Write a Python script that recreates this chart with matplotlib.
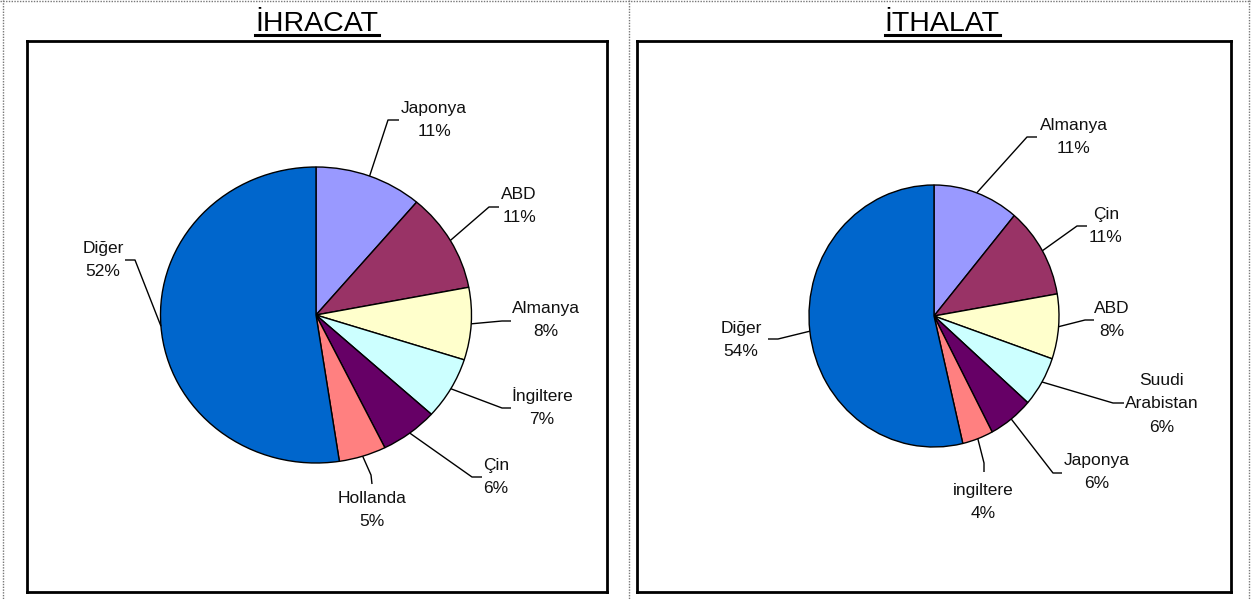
import numpy as np
import matplotlib
matplotlib.use('Agg')
import matplotlib.pyplot as plt
from matplotlib.lines import Line2D

plt.rcParams['font.family'] = ['Liberation Sans', 'DejaVu Sans']

W, H = 1251, 599

# İHRACAT (exports) shares, %
ihr_countries = ['Japonya', 'ABD', 'Almanya', 'İngiltere', 'Çin', 'Hollanda', 'Diğer']
ihr_shares = [11.2, 10.8, 7.9, 6.8, 6.0, 4.9, 52.4]

# İTHALAT (imports) shares, %
ith_countries = ['Almanya', 'Çin', 'ABD', 'Suudi\nArabistan', 'Japonya', 'ingiltere', 'Diğer']
ith_shares = [11.1, 11.2, 8.0, 6.2, 5.8, 4.0, 53.7]

colors = ['#9999FF', '#993366', '#FFFFCC', '#CCFFFF', '#660066', '#FF8080', '#0066CC']

# layout in pixels (from top-left): box, pie centre, radii, and label placement
# label entries: text centre, elbow of the leader, end of the leader
ihr_layout = dict(
    title='İHRACAT', title_x=317,
    box=(27, 41, 607, 592), center=(316, 315), r=(155.5, 148),
    labels=[((434, 120), (388, 120), (399, 120)),
            ((519, 206), (489, 207), (499, 207)),
            ((546, 320), (502, 321), (511, 321)),
            ((542, 407), (502, 408), (511, 408)),
            ((496, 477), (472, 477), (482, 477)),
            ((372, 510), (371, 475), (372, 484)),
            ((103, 260), (135, 260), (125, 260))])
ith_layout = dict(
    title='İTHALAT', title_x=942,
    box=(637, 41, 1231, 592), center=(934, 316), r=(125, 131),
    labels=[((1074, 137), (1027, 137), (1037, 137)),
            ((1106, 226), (1077, 226), (1087, 226)),
            ((1112, 320), (1085, 320), (1094, 320)),
            ((1162, 404), (1113, 403), (1124, 403)),
            ((1097, 472), (1053, 473), (1062, 473)),
            ((983, 502), (984, 463), (984, 472)),
            ((741, 340), (778, 339), (768, 339))])

fig = plt.figure(figsize=(W / 100, H / 100), dpi=100)


def draw_panel(countries, shares, lay):
    x0, y0, x1, y1 = lay['box']
    cx, cy = lay['center']
    rx, ry = lay['r']
    ax = fig.add_axes([x0 / W, 1 - y1 / H, (x1 - x0) / W, (y1 - y0) / H])
    wedges, _ = ax.pie(shares, colors=colors, startangle=90, counterclock=False,
                       wedgeprops=dict(edgecolor='black', linewidth=1))
    ax.set_aspect('auto')
    ax.set_xlim(-(cx - x0) / rx, (x1 - cx) / rx)
    ax.set_ylim(-(y1 - cy) / ry, (cy - y0) / ry)
    ax.set_frame_on(True)
    for s in ax.spines.values():
        s.set_visible(True)
        s.set_linewidth(2)
        s.set_color('black')

    def d(p):
        return ((p[0] - cx) / rx, (cy - p[1]) / ry)

    for w, name, val, (txt, elbow, end) in zip(wedges, countries, shares, lay['labels']):
        ang = np.deg2rad((w.theta1 + w.theta2) / 2)
        start = (np.cos(ang), np.sin(ang))
        e = d(elbow)
        f = d(end)
        ax.plot([start[0], e[0], f[0]], [start[1], e[1], f[1]], color='black', lw=1,
                clip_on=False, solid_capstyle='butt')
        t = d(txt)
        ax.text(t[0], t[1], f'{name}\n{round(val):.0f}%', ha='center', va='center',
                fontsize=12.5, linespacing=1.7, color='#111111')

    title = fig.text(lay['title_x'] / W, 1 - 31 / H, lay['title'], ha='center',
                     va='baseline', fontsize=20.5, color='black')
    return title


titles = [draw_panel(ihr_countries, ihr_shares, ihr_layout),
          draw_panel(ith_countries, ith_shares, ith_layout)]

# underline titles
fig.canvas.draw()
for t in titles:
    bb = t.get_window_extent()
    y = 1 - 34.5 / H
    fig.add_artist(Line2D([bb.x0 / W, bb.x1 / W], [y, y], color='black', lw=2.2,
                          transform=fig.transFigure))

# dotted page borders
for xs, ys in [([3, 3], [0, H]), ([0, W], [1, 1]), ([629, 629], [0, H]), ([1249, 1249], [0, H])]:
    fig.add_artist(Line2D([x / W for x in xs], [1 - y / H for y in ys], color='#777777',
                          lw=1, linestyle=(0, (1, 1)), transform=fig.transFigure))

fig.savefig('out.png', dpi=100)
